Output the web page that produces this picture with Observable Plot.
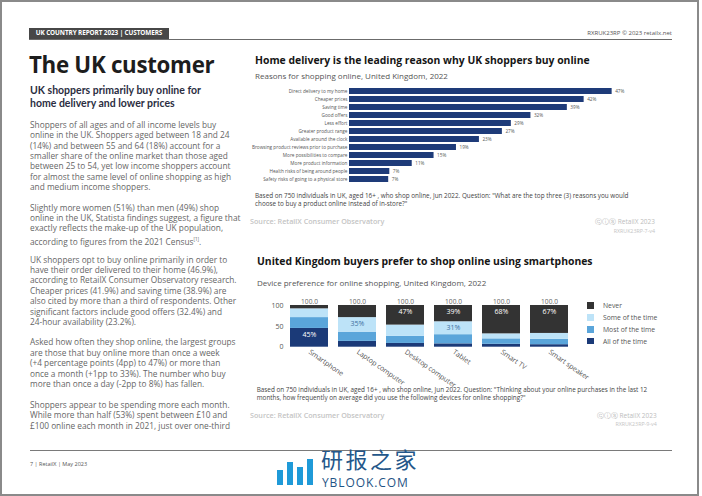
<!DOCTYPE html>
<html><head><meta charset="utf-8">
<script src="https://cdn.jsdelivr.net/npm/d3@7"></script>
<script src="https://cdn.jsdelivr.net/npm/@observablehq/plot@0.6"></script>
<style>
html,body{margin:0;padding:0;background:#fff;}
#page{position:relative;width:702px;height:496px;overflow:hidden;font-family:"Open Sans",sans-serif;background:#fff;}
.a{position:absolute;white-space:nowrap;}
#frame{position:absolute;left:0;top:0;width:695px;height:492px;border:2px solid #8a8a8a;}
#hdrbox{left:29px;top:28px;width:140px;height:10.5px;background:#474747;color:#fff;font-weight:700;font-size:6.4px;line-height:10.5px;text-align:center;letter-spacing:-0.1px;}
#hdrline{left:29px;top:38.5px;width:643px;height:1px;background:#6b6b6b;}
#hdrright{right:30px;top:29px;font-size:6px;line-height:8px;color:#555;}
#title{left:29px;top:50px;font-size:22.3px;font-weight:700;line-height:30px;color:#1d1d1d;letter-spacing:-0.3px;}
#sub{left:30px;top:83.5px;font-size:10.5px;line-height:13px;font-weight:700;color:#2b2e3f;font-family:"Lato",sans-serif;}
.body{left:30px;font-size:8.3px;line-height:10.4px;color:#666;}
.ct{font-size:10.4px;font-weight:700;color:#161616;line-height:14px;}
.cs{font-size:8px;color:#555;line-height:10px;}
.cap{font-size:6.35px;color:#444;line-height:8.7px;}
.src{font-size:7.2px;color:#c4c4c4;font-weight:600;line-height:9px;}
.rx{font-size:6.5px;color:#bdbdbd;line-height:9px;text-align:right;}
.rx2{font-size:5.3px;color:#c4c4c4;line-height:8px;text-align:right;}
.lg{font-size:6.8px;color:#555;line-height:9px;}
.sw{position:absolute;width:6.6px;height:6.6px;}
#footline{left:30px;top:450.2px;width:642px;height:1px;background:#7a7a7a;}
#foot{left:30px;top:460px;font-size:5.5px;color:#555;line-height:8px;}
#wm1{left:321px;top:447px;font-size:22px;line-height:22px;letter-spacing:2.5px;color:#24578a;font-family:"Noto Sans CJK SC",sans-serif;}
#wm2{left:322px;top:475px;font-size:12px;line-height:15px;color:#1f5485;letter-spacing:0.9px;}
.wb{position:absolute;background:#1f9ad8;}
</style></head>
<body><div id="page">
<div id="frame"></div>
<div class="a" id="hdrbox">UK COUNTRY REPORT 2023 | CUSTOMERS</div>
<div class="a" id="hdrline"></div>
<div class="a" id="hdrright">RXRUK23RP © 2023 retailx.net</div>
<div class="a" id="title">The UK customer</div>
<div class="a" id="sub">UK shoppers primarily buy online for<br>home delivery and lower prices</div>
<div class="a body" style="top:119.8px">Shoppers of all ages and of all income levels buy<br>online in the UK. Shoppers aged between 18 and 24<br>(14%) and between 55 and 64 (18%) account for a<br>smaller share of the online market than those aged<br>between 25 to 54, yet low income shoppers account<br>for almost the same level of online shopping as high<br>and medium income shoppers.</div>
<div class="a body" style="top:202.6px">Slightly more women (51%) than men (49%) shop<br>online in the UK, Statista findings suggest, a figure that<br>exactly reflects the make-up of the UK population,<br>according to figures from the 2021 Census<sup style="font-size:4.5px">[1]</sup>.</div>
<div class="a body" style="top:254.6px">UK shoppers opt to buy online primarily in order to<br>have their order delivered to their home (46.9%),<br>according to RetailX Consumer Observatory research.<br>Cheaper prices (41.9%) and saving time (38.9%) are<br>also cited by more than a third of respondents. Other<br>significant factors include good offers (32.4%) and<br>24-hour availability (23.2%).</div>
<div class="a body" style="top:337.4px">Asked how often they shop online, the largest groups<br>are those that buy online more than once a week<br>(+4 percentage points (4pp) to 47%) or more than<br>once a month (+1pp to 33%). The number who buy<br>more than once a day (-2pp to 8%) has fallen.</div>
<div class="a body" style="top:399.8px">Shoppers appear to be spending more each month.<br>While more than half (53%) spent between £10 and<br>£100 online each month in 2021, just over one-third</div>

<div class="a ct" style="left:255px;top:53px">Home delivery is the leading reason why UK shoppers buy online</div>
<div class="a cs" style="left:255px;top:71px">Reasons for shopping online, United Kingdom, 2022</div>
<div class="a" id="chart1" style="left:250px;top:84px"></div>
<div class="a cap" style="left:255px;top:191.5px">Based on 750 individuals in UK, aged 16+ , who shop online, Jun 2022. Question: "What are the top three (3) reasons you would<br>choose to buy a product online instead of in-store?"</div>
<div class="a src" style="left:250px;top:217.2px">Source: RetailX Consumer Observatory</div>
<div class="a rx" style="right:47px;top:217.2px">ⓒⓘⓢ RetailX 2023</div>
<div class="a rx2" style="right:47px;top:226.7px">RXRUK23RP-7-v4</div>

<div class="a ct" style="left:257px;top:253.7px">United Kingdom buyers prefer to shop online using smartphones</div>
<div class="a cs" style="left:257px;top:277.7px">Device preference for online shopping, United Kingdom, 2022</div>
<div class="a" id="chart2" style="left:250px;top:295px"></div>
<div class="a" id="legend" style="left:587px;top:300px"></div>
<div class="a cap" style="left:256.7px;top:385.7px">Based on 750 individuals in UK, aged 16+ , who shop online, Jun 2022. Question: "Thinking about your online purchases in the last 12<br>months, how frequently on average did you use the following devices for online shopping?"</div>
<div class="a src" style="left:250px;top:411.2px">Source: RetailX Consumer Observatory</div>
<div class="a rx" style="right:45.3px;top:411.2px">ⓒⓘⓢ RetailX 2023</div>
<div class="a rx2" style="right:45.3px;top:420px">RXRUK23RP-9-v4</div>

<div class="a" id="footline"></div>
<div class="a" id="foot">7 | RetailX | May 2023</div>
<div class="wb" style="left:277px;top:470px;width:6px;height:15px"></div>
<div class="wb" style="left:287px;top:462px;width:6px;height:23px"></div>
<div class="wb" style="left:297px;top:467px;width:6px;height:18px"></div>
<div class="wb" style="left:307px;top:459px;width:6px;height:26px"></div>
<div class="a" id="wm1">研报之家</div>
<div class="a" id="wm2">YBLOOK.COM</div>
</div>
<script>
// ---- Chart 1 data: reasons for shopping online (%)
const reasons = [
  "Direct delivery to my home","Cheaper prices","Saving time","Good offers","Less effort",
  "Greater product range","Available around the clock","Browsing product reviews prior to purchase",
  "More possibilities to compare","More product information","Health risks of being around people",
  "Safety risks of going to a physical store"
];
const reasonShares = [46.9, 41.9, 38.9, 32.4, 28.9, 27.3, 23.2, 19.1, 15.1, 11.2, 7.2, 7.0];

// ---- Chart 2 data: device preference (%)
const devices = ["Smartphone","Laptop computer","Desktop computer","Tablet","Smart TV","Smart speaker"];
const frequencies = ["All of the time","Most of the time","Some of the time","Never"];
const allOfTheTime  = [45, 14,  9,  8,  7,  6];
const mostOfTheTime = [26, 22, 17, 22, 13, 13];
const someOfTheTime = [21, 35, 27, 31, 12, 14];
const never         = [ 8, 29, 47, 39, 68, 67];
const frequencyColors = ["#1b3a78", "#5aa5da", "#bde3f8", "#333333"];

const reasonData = reasons.map((r, i) => ({reason: r, share: reasonShares[i]}));
const chart1 = Plot.plot({
  width: 385, height: 102,
  marginLeft: 99, marginRight: 6, marginTop: 1.5, marginBottom: 1.5,
  x: {domain: [0, 50], axis: null},
  y: {domain: reasons, padding: 0.28, label: null, tickSize: 0, tickPadding: 2},
  style: {fontFamily: "Open Sans", fontSize: "4.7px", color: "#555", background: "transparent", overflow: "visible"},
  marks: [
    Plot.barX(reasonData, {x: "share", y: "reason", fill: "#1e3b79"}),
    Plot.text(reasonData, {x: "share", y: "reason", text: d => Math.round(d.share) + "%", textAnchor: "start", dx: 3, fill: "#555", fontSize: 4.7})
  ]
});
document.getElementById("chart1").appendChild(chart1);

const series = [allOfTheTime, mostOfTheTime, someOfTheTime, never];
const deviceData = frequencies.flatMap((f, j) => devices.map((d, i) => ({device: d, frequency: f, value: series[j][i]})));
const totals = devices.map((d, i) => ({device: d, total: d3.sum(series, s => s[i])}));

const chart2 = Plot.plot({
  width: 330, height: 90,
  marginLeft: 34.5, marginRight: 6.3, marginTop: 10, marginBottom: 38.3,
  x: {domain: devices, padding: 0.2, paddingOuter: 0.1, label: null, tickSize: 0, tickPadding: 4, tickRotate: 35},
  y: {domain: [0, 100], ticks: [0, 50, 100], label: null, tickSize: 0, tickPadding: 1.5},
  color: {domain: frequencies, range: frequencyColors},
  style: {fontFamily: "Open Sans", fontSize: "7px", color: "#555", background: "transparent", overflow: "visible"},
  marks: [
    Plot.barY(deviceData, {x: "device", y: "value", fill: "frequency", order: frequencies}),
    Plot.text(deviceData, Plot.stackY2({x: "device", y: "value", z: "frequency", order: frequencies,
      text: d => (d.value >= 30 && d.frequency !== "Some of the time") ? d.value + "%" : "",
      dy: 6.3, fill: "white", fontSize: 7})),
    Plot.text(deviceData, Plot.stackY2({x: "device", y: "value", z: "frequency", order: frequencies,
      text: d => (d.value >= 30 && d.frequency === "Some of the time") ? d.value + "%" : "",
      dy: 6.3, fill: "#41709f", fontSize: 7})),
    Plot.text(totals, {x: "device", y: "total", text: d => d.total.toFixed(1), dy: -3.4, fill: "#666", fontSize: 6.6})
  ]
});
document.getElementById("chart2").appendChild(chart2);

// legend (top entry = top of stack)
const legend = document.getElementById("legend");
frequencies.slice().reverse().forEach((f, k) => {
  const i = frequencies.indexOf(f);
  const sw = document.createElement("div");
  sw.className = "sw";
  sw.style.left = "0px";
  sw.style.top = (2.4 + k * 11.8) + "px";
  sw.style.background = frequencyColors[i];
  legend.appendChild(sw);
  const t = document.createElement("div");
  t.className = "a lg";
  t.style.left = "16px";
  t.style.top = (1.2 + k * 11.8) + "px";
  t.textContent = f;
  legend.appendChild(t);
});
</script>
</body></html>
